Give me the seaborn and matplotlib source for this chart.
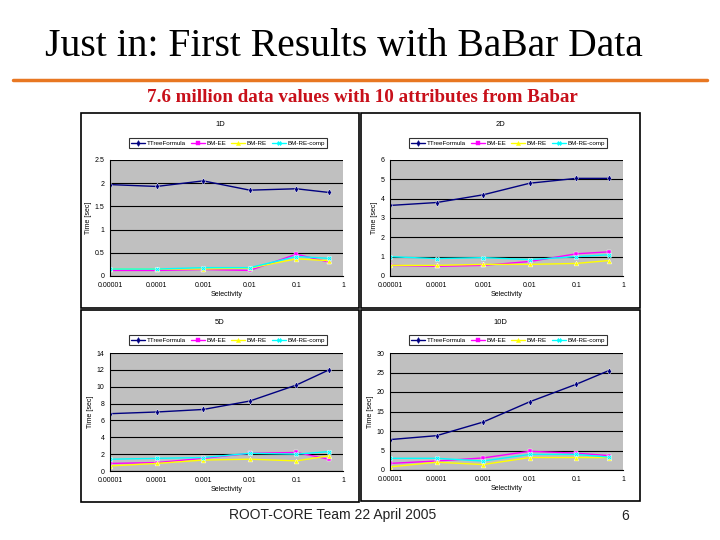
import numpy as np
import pandas as pd
import seaborn as sns
import matplotlib.pyplot as plt
from matplotlib.patches import Rectangle
from matplotlib.lines import Line2D

sns.set_style("white")
plt.rcParams['font.family'] = ['Liberation Sans', 'DejaVu Sans']
plt.rcParams['text.color'] = 'black'
plt.rcParams['axes.labelcolor'] = 'black'

# ---------------- data ----------------
selectivity = [0.00001, 0.0001, 0.001, 0.01, 0.1, 0.5]
series_names = ["TTreeFormula", "BM-EE", "BM-RE", "BM-RE-comp"]
xtick_vals = [0.00001, 0.0001, 0.001, 0.01, 0.1, 1]
xtick_labels = ["0.00001", "0.0001", "0.001", "0.01", "0.1", "1"]

t_1d = {
    "TTreeFormula": [1.97, 1.93, 2.05, 1.85, 1.88, 1.80],
    "BM-EE": [0.12, 0.12, 0.14, 0.12, 0.47, 0.30],
    "BM-RE": [0.15, 0.15, 0.15, 0.17, 0.37, 0.33],
    "BM-RE-comp": [0.15, 0.15, 0.18, 0.18, 0.42, 0.38],
}
t_2d = {
    "TTreeFormula": [3.65, 3.80, 4.20, 4.80, 5.05, 5.05],
    "BM-EE": [0.55, 0.50, 0.55, 0.75, 1.15, 1.25],
    "BM-RE": [0.55, 0.55, 0.60, 0.60, 0.65, 0.80],
    "BM-RE-comp": [1.00, 0.90, 0.95, 0.85, 1.00, 1.10],
}
t_5d = {
    "TTreeFormula": [6.8, 7.0, 7.3, 8.3, 10.2, 12.0],
    "BM-EE": [0.9, 1.0, 1.5, 2.1, 2.2, 1.4],
    "BM-RE": [0.6, 0.9, 1.3, 1.4, 1.2, 1.8],
    "BM-RE-comp": [1.4, 1.5, 1.6, 2.1, 2.0, 2.3],
}
t_10d = {
    "TTreeFormula": [7.8, 8.8, 12.3, 17.5, 22.0, 25.5],
    "BM-EE": [1.7, 2.3, 3.1, 4.8, 4.3, 3.7],
    "BM-RE": [0.8, 2.0, 1.4, 3.2, 3.2, 3.2],
    "BM-RE-comp": [3.0, 3.0, 2.3, 4.0, 4.0, 3.3],
}

panel_titles = ["1D", "2D", "5D", "10D"]
panel_data = [t_1d, t_2d, t_5d, t_10d]
panel_ymax = [2.5, 6, 14, 30]
panel_ystep = [0.5, 1, 2, 5]

colors = {"TTreeFormula": "#000080", "BM-EE": "#FF00FF",
          "BM-RE": "#FFFF00", "BM-RE-comp": "#00FFFF"}
markers = {"TTreeFormula": "d", "BM-EE": "s", "BM-RE": "^", "BM-RE-comp": "X"}

W, H = 720, 540


def box(x0, y0, x1, y1):
    return [x0 / W, 1 - y1 / H, (x1 - x0) / W, (y1 - y0) / H]


fig = plt.figure(figsize=(7.2, 5.4), dpi=100)
fig.patch.set_facecolor("white")

# slide header
fig.text(45 / W, 1 - 46 / H, "Just in: First Results with BaBar Data",
         family="Liberation Serif", fontsize=28.5, color="black",
         va="center", ha="left")
fig.add_artist(Line2D([13 / W, 707 / W], [1 - 80 / H, 1 - 80 / H],
                      color="#E87722", lw=2.5))
fig.text(362 / W, 1 - 98 / H, "7.6 million data values with 10 attributes from Babar",
         family="Liberation Serif", fontsize=13.7, fontweight="bold",
         color="#C8101A", va="center", ha="center")

# panel frames and plot areas (pixels)
frames = [(81, 113, 359, 308), (361, 113, 640, 308),
          (81, 310, 359, 502), (361, 310, 640, 501)]
areas = [(110, 160, 343, 276), (390, 160, 623, 276),
         (110, 353, 343, 471), (390, 353, 623, 470)]

for i in range(4):
    fx0, fy0, fx1, fy1 = frames[i]
    fig.add_artist(Rectangle((fx0 / W, 1 - fy1 / H), (fx1 - fx0) / W, (fy1 - fy0) / H,
                             transform=fig.transFigure, fill=False,
                             edgecolor="black", lw=1.2))
    ax0, ay0, ax1, ay1 = areas[i]
    ax = fig.add_axes(box(ax0, ay0, ax1, ay1))
    ax.set_facecolor("#C0C0C0")

    rows = []
    for name in series_names:
        for s, t in zip(selectivity, panel_data[i][name]):
            rows.append({"Selectivity": s, "Time": t, "series": name})
    df = pd.DataFrame(rows)

    sns.lineplot(data=df, x="Selectivity", y="Time", hue="series", style="series",
                 palette=colors, markers=markers, dashes=False, ax=ax,
                 lw=1.0, markersize=3.5, markeredgewidth=0.3, legend=False,
                 hue_order=series_names, style_order=series_names)

    ax.set_xscale("log")
    ax.set_xlim(0.00001, 1)
    ax.set_xticks(xtick_vals)
    ax.set_xticklabels(xtick_labels, fontsize=5)
    ax.minorticks_off()
    yt = np.arange(0, panel_ymax[i] + 1e-9, panel_ystep[i])
    ax.set_ylim(0, panel_ymax[i])
    ax.set_yticks(yt)
    ax.set_yticklabels(["%g" % v for v in yt], fontsize=5)
    ax.yaxis.grid(True, color="black", lw=0.8)
    ax.set_axisbelow(True)
    for sp in ["top", "right"]:
        ax.spines[sp].set_visible(False)
    for sp in ["left", "bottom"]:
        ax.spines[sp].set_color("black")
        ax.spines[sp].set_linewidth(0.8)
    ax.tick_params(axis="both", length=2, pad=2, colors="black", direction="out")
    ax.set_xlabel("Selectivity", fontsize=5, labelpad=2)
    ax.set_ylabel("Time [sec]", fontsize=5, labelpad=2)

    # panel title
    cx = (fx0 + fx1) / 2
    fig.text(cx / W, 1 - (fy0 + 12) / H, panel_titles[i], fontsize=5.5,
             ha="center", va="center")

    # legend above plot area
    handles = [Line2D([0], [0], color=colors[n], marker=markers[n], lw=1.0,
                      markersize=3, markeredgewidth=0.3) for n in series_names]
    leg = fig.legend(handles, series_names, ncol=4, fontsize=4.5,
                     loc="center", bbox_to_anchor=((fx0 + 147) / W, 1 - (fy0 + 30) / H),
                     frameon=True, fancybox=False, edgecolor="black",
                     handlelength=2.2, columnspacing=0.8, handletextpad=0.3,
                     borderpad=0.3)
    leg.get_frame().set_linewidth(0.8)

# footer
fig.text(333 / W, 1 - 515 / H, "ROOT-CORE Team 22 April 2005", fontsize=10,
         color="#222222", ha="center", va="center")
fig.text(625 / W, 1 - 516 / H, "6", fontsize=10, color="#222222",
         ha="center", va="center")

fig.savefig("out.png", dpi=100)
